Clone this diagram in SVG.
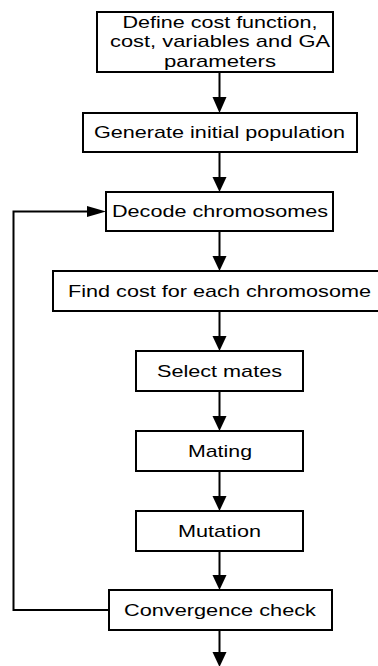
<svg xmlns="http://www.w3.org/2000/svg" width="378" height="666" viewBox="0 0 378 666">
<style>
.box{fill:#fff;stroke:#000;stroke-width:2}
.t{font-family:"Liberation Sans",Arial,sans-serif;font-size:17px;fill:#000;text-anchor:middle}
.ln{fill:none;stroke:#000;stroke-width:2}
.hd{fill:#000;stroke:none}
</style>
<rect width="378" height="666" fill="#fff"/>
<g id="connectors">
<path class="ln" d="M219.5,72V98"/><polygon class="hd" points="212.5,97 226.5,97 219.5,113"/>
<path class="ln" d="M219.5,152V178"/><polygon class="hd" points="212.5,177 226.5,177 219.5,192"/>
<path class="ln" d="M219.5,231V257"/><polygon class="hd" points="212.5,256 226.5,256 219.5,271"/>
<path class="ln" d="M219.5,311V337"/><polygon class="hd" points="212.5,336 226.5,336 219.5,351"/>
<path class="ln" d="M219.5,391V417"/><polygon class="hd" points="212.5,416 226.5,416 219.5,431"/>
<path class="ln" d="M219.5,471V497"/><polygon class="hd" points="212.5,496 226.5,496 219.5,511"/>
<path class="ln" d="M219.5,551V576"/><polygon class="hd" points="212.5,575 226.5,575 219.5,590"/>
<path class="ln" d="M219.5,630V653"/><polygon class="hd" points="212.5,652 226.5,652 219.5,667"/>
<path class="ln" d="M109,610H13.5V211.5H88"/><polygon class="hd" points="87,206 87,217 106,211.5"/>
</g>
<g id="n1"><rect class="box" x="97" y="12" width="236" height="60"/>
<text class="t" x="220" y="28" textLength="195" lengthAdjust="spacingAndGlyphs">Define cost function,</text>
<text class="t" x="220" y="47" textLength="220" lengthAdjust="spacingAndGlyphs">cost, variables and GA</text>
<text class="t" x="220" y="66.5" textLength="112" lengthAdjust="spacingAndGlyphs">parameters</text></g>
<g id="n2"><rect class="box" x="83" y="113" width="274" height="39"/>
<text class="t" x="219.5" y="137.5" textLength="251" lengthAdjust="spacingAndGlyphs">Generate initial population</text></g>
<g id="n3"><rect class="box" x="106" y="192" width="227" height="39"/>
<text class="t" x="220" y="217" textLength="216" lengthAdjust="spacingAndGlyphs">Decode chromosomes</text></g>
<g id="n4"><rect class="box" x="53" y="271" width="330" height="40"/>
<text class="t" x="219.5" y="296.5" textLength="303" lengthAdjust="spacingAndGlyphs">Find cost for each chromosome</text></g>
<g id="n5"><rect class="box" x="136" y="351" width="167" height="40"/>
<text class="t" x="219.5" y="376.5" textLength="125" lengthAdjust="spacingAndGlyphs">Select mates</text></g>
<g id="n6"><rect class="box" x="136" y="431" width="167" height="40"/>
<text class="t" x="220" y="456.5" textLength="64" lengthAdjust="spacingAndGlyphs">Mating</text></g>
<g id="n7"><rect class="box" x="136" y="511" width="167" height="40"/>
<text class="t" x="219.5" y="536.5" textLength="83" lengthAdjust="spacingAndGlyphs">Mutation</text></g>
<g id="n8"><rect class="box" x="109" y="590" width="223" height="40"/>
<text class="t" x="220" y="615.5" textLength="192" lengthAdjust="spacingAndGlyphs">Convergence check</text></g>
</svg>
